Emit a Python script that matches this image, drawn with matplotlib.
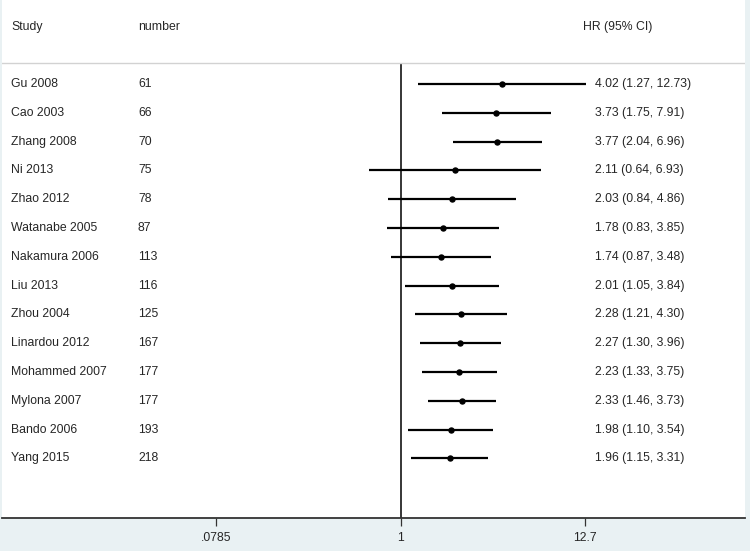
import matplotlib
matplotlib.use("Agg")
import matplotlib.pyplot as plt
import matplotlib.transforms as mtransforms
import numpy as np

studies = ["Gu 2008", "Cao 2003", "Zhang 2008", "Ni 2013", "Zhao 2012", "Watanabe 2005",
           "Nakamura 2006", "Liu 2013", "Zhou 2004", "Linardou 2012", "Mohammed 2007",
           "Mylona 2007", "Bando 2006", "Yang 2015"]
numbers = [61, 66, 70, 75, 78, 87, 113, 116, 125, 167, 177, 177, 193, 218]
hr = [4.02, 3.73, 3.77, 2.11, 2.03, 1.78, 1.74, 2.01, 2.28, 2.27, 2.23, 2.33, 1.98, 1.96]
lo = [1.27, 1.75, 2.04, 0.64, 0.84, 0.83, 0.87, 1.05, 1.21, 1.30, 1.33, 1.46, 1.10, 1.15]
hi = [12.73, 7.91, 6.96, 6.93, 4.86, 3.85, 3.48, 3.84, 4.30, 3.96, 3.75, 3.73, 3.54, 3.31]
tick_vals = [0.0785, 1, 12.7]
tick_labels = [".0785", "1", "12.7"]

plt.rcParams['font.family'] = ['Liberation Sans', 'DejaVu Sans']

W, H = 750, 551
fig = plt.figure(figsize=(W / 100, H / 100), dpi=100)
fig.patch.set_facecolor("#e9f1f3")

# axes in pixel coordinates: x 2..745, y 0..518 (from top)
left, right, top, bottom = 2, 745, 0, 518
ax = fig.add_axes([left / W, 1 - bottom / H, (right - left) / W, (bottom - top) / H])
ax.set_facecolor("white")
ax.set_xscale("log")
px_per_dec = 167
x1 = 401
ax.set_xlim(10 ** ((left - x1) / px_per_dec), 10 ** ((right - x1) / px_per_dec))
row0, dy = 84, 28.8
ax.set_ylim((bottom - row0) / dy, (top - row0) / dy)

n = len(studies)
ys = np.arange(n)
txt = "#262626"
fs = 8.8

# CI lines and point estimates
ax.hlines(ys, lo, hi, color="black", lw=1.6, zorder=3)
ax.plot(hr, ys, "o", color="black", ms=3.6, zorder=4)

# null line
sep_y = (63 - row0) / dy
ax.vlines(1, sep_y, (bottom - row0) / dy, color="black", lw=1.1, zorder=2)

# header separator
ax.axhline(sep_y, color="#d2d2d2", lw=1.0)

blend = mtransforms.blended_transform_factory(ax.transAxes, ax.transData)
col_study = (11 - left) / (right - left)
col_num = (138 - left) / (right - left)
col_hr_head = (583 - left) / (right - left)
col_hr = (595 - left) / (right - left)
head_y = (27 - row0) / dy

ax.text(col_study, head_y, "Study", transform=blend, ha="left", va="center", fontsize=fs, color=txt)
ax.text(col_num, head_y, "number", transform=blend, ha="left", va="center", fontsize=fs, color=txt)
ax.text(col_hr_head, head_y, "HR (95% CI)", transform=blend, ha="left", va="center", fontsize=fs, color=txt)

for i in range(n):
    ax.text(col_study, ys[i], studies[i], transform=blend, ha="left", va="center", fontsize=fs, color=txt)
    ax.text(col_num, ys[i], str(numbers[i]), transform=blend, ha="left", va="center", fontsize=fs, color=txt)
    ax.text(col_hr, ys[i], f"{hr[i]:.2f} ({lo[i]:.2f}, {hi[i]:.2f})", transform=blend,
            ha="left", va="center", fontsize=fs, color=txt)

for s in ["top", "left", "right"]:
    ax.spines[s].set_visible(False)
ax.spines["bottom"].set_color("#333333")
ax.spines["bottom"].set_linewidth(1.3)
ax.set_yticks([])
ax.set_xticks(tick_vals)
ax.set_xticklabels(tick_labels)
ax.xaxis.set_minor_locator(matplotlib.ticker.NullLocator())
ax.tick_params(axis="x", length=6, width=0.9, color="#333333", labelsize=fs, labelcolor=txt, pad=4)

fig.savefig("out.png", dpi=100, facecolor=fig.get_facecolor())
